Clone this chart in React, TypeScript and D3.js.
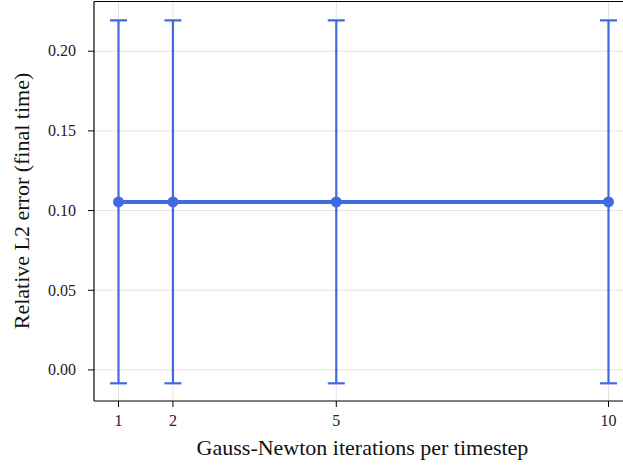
import * as d3 from "d3";

const iterations = [1, 2, 5, 10];
const meanError = [0.1054, 0.1054, 0.1054, 0.1054];
const errLow = [-0.0084, -0.0084, -0.0084, -0.0084];
const errHigh = [0.2193, 0.2193, 0.2193, 0.2193];
const yTicks = [0.0, 0.05, 0.1, 0.15, 0.2];
const xTicks = [1, 2, 5, 10];

const width = 623;
const height = 466;
const left = 94;
const right = 633;
const top = 1.5;
const bottom = 401;
const color = "#4169e1";
const font = "'Liberation Serif', 'DejaVu Serif', serif";

export default function App() {
  const x = d3.scaleLinear().domain([0.55, 10.45]).range([left, right]);
  const y = d3.scaleLinear().domain([-0.0195, 0.2312]).range([bottom, top]);

  const line = d3
    .line<number>()
    .x((d) => x(d))
    .y((_, i) => y(meanError[i]));

  return (
    <svg
      width={width}
      height={height}
      style={{ position: "absolute", left: 0, top: 0, background: "#fff" }}
    >
      <defs>
        <clipPath id="plot">
          <rect x={left} y={top} width={right - left} height={bottom - top} />
        </clipPath>
      </defs>

      {/* grid */}
      <g stroke="#e3e3e3" strokeWidth={1}>
        {yTicks.map((t) => (
          <line key={"gy" + t} x1={left} x2={right} y1={y(t)} y2={y(t)} />
        ))}
        {xTicks.map((t) => (
          <line key={"gx" + t} x1={x(t)} x2={x(t)} y1={top} y2={bottom} />
        ))}
      </g>

      {/* error bars */}
      <g clipPath="url(#plot)" stroke={color} strokeWidth={2.2}>
        {iterations.map((it, i) => (
          <g key={it}>
            <line x1={x(it)} x2={x(it)} y1={y(errLow[i])} y2={y(errHigh[i])} />
            <line x1={x(it) - 8.5} x2={x(it) + 8.5} y1={y(errLow[i])} y2={y(errLow[i])} />
            <line x1={x(it) - 8.5} x2={x(it) + 8.5} y1={y(errHigh[i])} y2={y(errHigh[i])} />
          </g>
        ))}
      </g>

      <path d={line(iterations) ?? ""} fill="none" stroke={color} strokeWidth={4} />
      {iterations.map((it, i) => (
        <circle key={"m" + it} cx={x(it)} cy={y(meanError[i])} r={5.5} fill={color} />
      ))}

      {/* spines */}
      <g stroke="#000" strokeWidth={1.2} fill="none">
        <line x1={left} x2={left} y1={top} y2={bottom} />
        <line x1={left} x2={right} y1={bottom} y2={bottom} />
        <line x1={left} x2={right} y1={top} y2={top} />
        <line x1={right} x2={right} y1={top} y2={bottom} />
      </g>

      {/* y ticks */}
      {yTicks.map((t) => (
        <g key={"ty" + t}>
          <line x1={left - 6} x2={left} y1={y(t)} y2={y(t)} stroke="#000" strokeWidth={1} />
          <text
            x={left - 18}
            y={y(t)}
            dy="0.33em"
            textAnchor="end"
            fontFamily={font}
            fontSize={16}
            fill="#222"
          >
            {d3.format(".2f")(t)}
          </text>
        </g>
      ))}

      {/* x ticks */}
      {xTicks.map((t) => (
        <g key={"tx" + t}>
          <line x1={x(t)} x2={x(t)} y1={bottom} y2={bottom + 6} stroke="#000" strokeWidth={1} />
          <text
            x={x(t)}
            y={425.5}
            textAnchor="middle"
            fontFamily={font}
            fontSize={16}
            fill="#222"
          >
            {t}
          </text>
        </g>
      ))}

      <text
        x={362.5}
        y={455}
        textAnchor="middle"
        fontFamily={font}
        fontSize={22}
        fill="#111"
      >
        Gauss-Newton iterations per timestep
      </text>
      <text
        transform="translate(29, 201) rotate(-90)"
        textAnchor="middle"
        fontFamily={font}
        fontSize={22}
        fill="#111"
      >
        Relative L2 error (final time)
      </text>
    </svg>
  );
}
